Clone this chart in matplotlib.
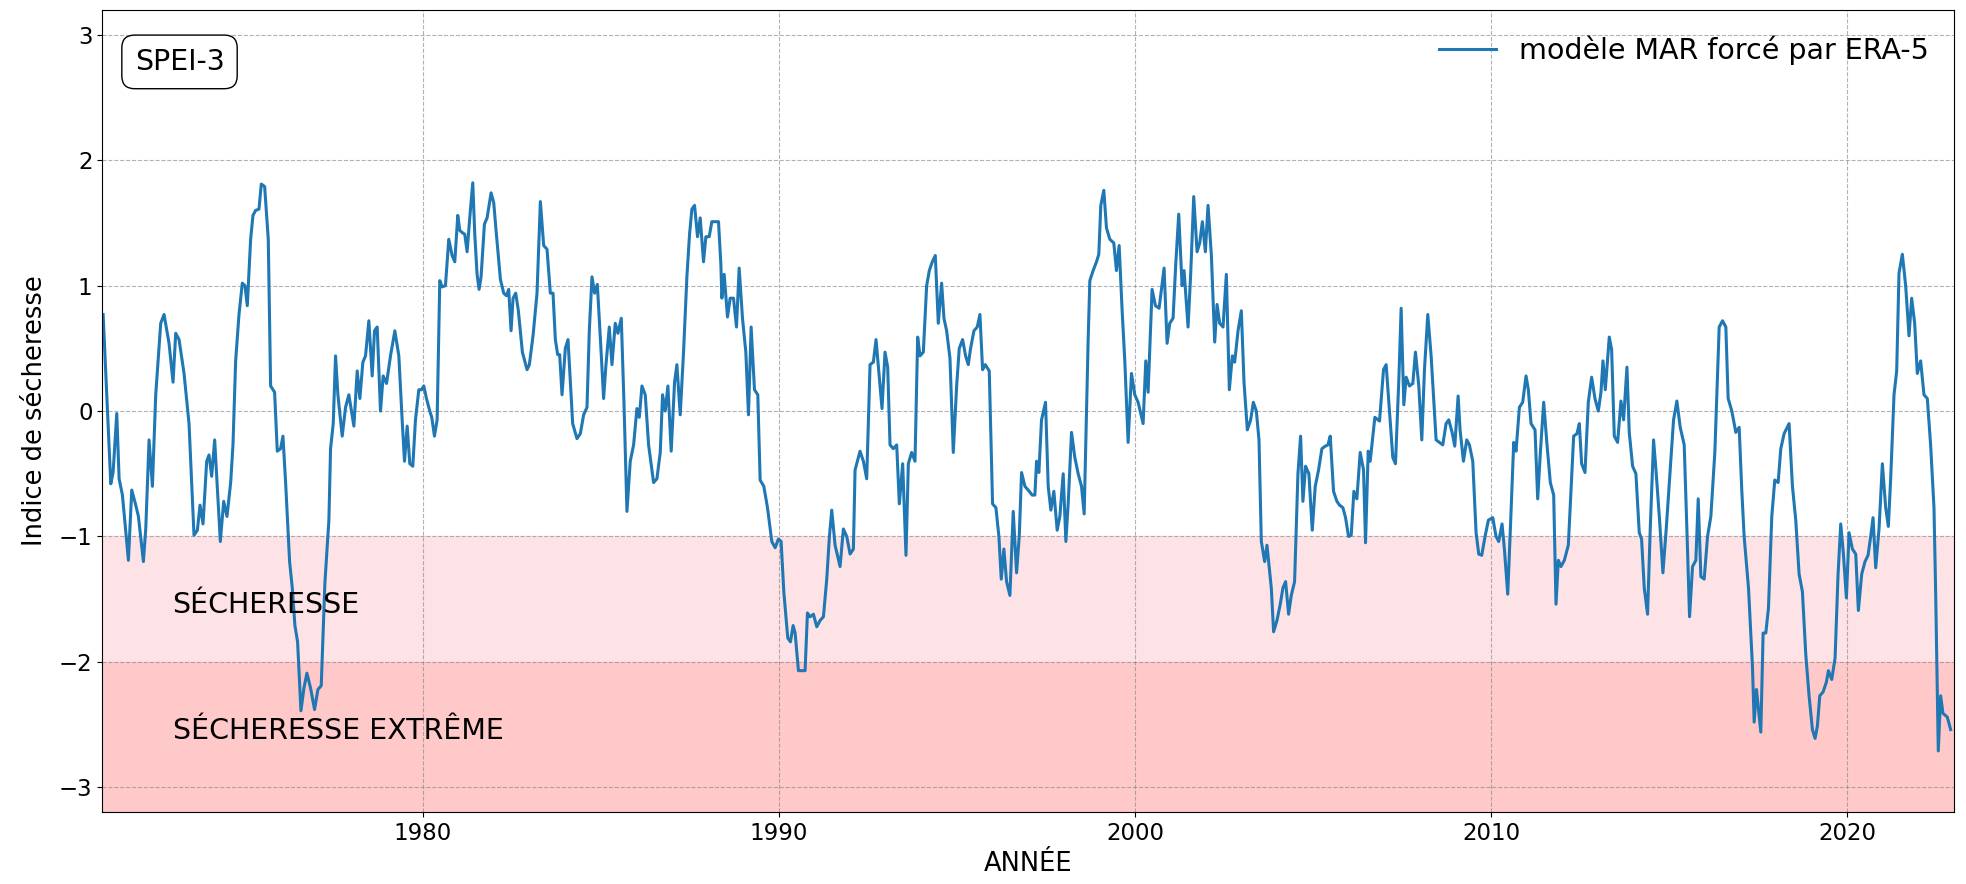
import matplotlib
matplotlib.use("Agg")
import matplotlib.pyplot as plt

# SPEI-3 mensuel, modèle MAR forcé par ERA-5 (années décimales)
annees = [
    1971.025, 1971.24, 1971.305, 1971.408, 1971.474, 1971.567, 1971.735, 1971.829, 1971.941, 1972.016,
    1972.156, 1972.222, 1972.315, 1972.409, 1972.502, 1972.642, 1972.736, 1972.876, 1972.988, 1973.063,
    1973.157, 1973.297, 1973.437, 1973.577, 1973.671, 1973.746, 1973.83, 1973.933, 1973.998, 1974.073,
    1974.157, 1974.251, 1974.316, 1974.41, 1974.503, 1974.606, 1974.671, 1974.746, 1974.84, 1974.933,
    1975.008, 1975.073, 1975.167, 1975.232, 1975.307, 1975.401, 1975.466, 1975.56, 1975.662, 1975.728,
    1975.84, 1975.915, 1976.008, 1976.074, 1976.149, 1976.261, 1976.336, 1976.41, 1976.485, 1976.579,
    1976.663, 1976.747, 1976.85, 1976.962, 1977.056, 1977.149, 1977.252, 1977.364,
    1977.411, 1977.486, 1977.551, 1977.617, 1977.738, 1977.832, 1977.925, 1978.066, 1978.159, 1978.234,
    1978.318, 1978.393, 1978.486, 1978.58, 1978.645, 1978.72, 1978.813, 1978.888, 1978.982, 1979.094,
    1979.216, 1979.328, 1979.421, 1979.487, 1979.562, 1979.636, 1979.72, 1979.795, 1979.889, 1979.964,
    1980.029, 1980.104, 1980.197, 1980.253, 1980.328, 1980.403, 1980.478, 1980.543, 1980.637, 1980.73,
    1980.824, 1980.899, 1980.983, 1981.039, 1981.123, 1981.179, 1981.245, 1981.319, 1981.404, 1981.46,
    1981.525, 1981.581, 1981.637, 1981.731, 1981.806, 1981.918, 1981.993, 1982.058, 1982.18, 1982.273,
    1982.348, 1982.413, 1982.479, 1982.535, 1982.61, 1982.684, 1982.797, 1982.928, 1982.993, 1983.096,
    1983.208, 1983.302, 1983.395, 1983.489, 1983.582, 1983.657, 1983.723, 1983.788, 1983.844, 1983.91,
    1984.003, 1984.078, 1984.209, 1984.33, 1984.424, 1984.517, 1984.611, 1984.676, 1984.751, 1984.826,
    1984.901, 1984.985, 1985.078, 1985.144, 1985.237, 1985.312, 1985.405, 1985.48, 1985.574, 1985.649,
    1985.733, 1985.826, 1985.92, 1986.013, 1986.079, 1986.154, 1986.247, 1986.341, 1986.481, 1986.574,
    1986.668, 1986.733, 1986.808, 1986.883, 1986.976, 1987.07, 1987.135, 1987.229, 1987.322, 1987.416,
    1987.491, 1987.556, 1987.631, 1987.715, 1987.79, 1987.883, 1987.949, 1988.042, 1988.117, 1988.304,
    1988.37, 1988.398, 1988.463, 1988.556, 1988.631, 1988.725, 1988.809, 1988.884, 1988.977, 1989.071,
    1989.145, 1989.22, 1989.314, 1989.407, 1989.473, 1989.576, 1989.679, 1989.8, 1989.894, 1989.987,
    1990.062, 1990.137, 1990.249, 1990.324, 1990.399, 1990.455, 1990.548,
    1990.595, 1990.735, 1990.801, 1990.876, 1990.969, 1991.063, 1991.156, 1991.25, 1991.343, 1991.418,
    1991.483, 1991.577, 1991.717, 1991.81, 1991.904, 1991.998, 1992.091, 1992.138, 1992.278, 1992.372,
    1992.465, 1992.559, 1992.652, 1992.727, 1992.802, 1992.895, 1992.979, 1993.054, 1993.12, 1993.213,
    1993.307, 1993.381, 1993.475, 1993.568, 1993.634, 1993.727, 1993.821, 1993.896, 1993.961, 1994.055,
    1994.148, 1994.223, 1994.307, 1994.391, 1994.475, 1994.569, 1994.634, 1994.709, 1994.803, 1994.896,
    1994.99, 1995.064, 1995.158, 1995.242, 1995.317, 1995.382, 1995.476, 1995.569, 1995.644, 1995.719,
    1995.794, 1995.906, 1995.999, 1996.093, 1996.177, 1996.243, 1996.317, 1996.392, 1996.486, 1996.579,
    1996.673, 1996.748, 1996.813, 1996.907, 1997.028, 1997.112,
    1997.187, 1997.234, 1997.299, 1997.374, 1997.486, 1997.561, 1997.636, 1997.72, 1997.813, 1997.888,
    1997.982, 1998.057, 1998.122, 1998.216, 1998.309, 1998.403, 1998.496, 1998.571, 1998.636, 1998.683,
    1998.73, 1998.823, 1998.917, 1998.982, 1999.038, 1999.123, 1999.197, 1999.291, 1999.403, 1999.478,
    1999.553, 1999.637, 1999.712, 1999.805, 1999.899, 1999.992, 2000.086, 2000.226, 2000.301, 2000.366,
    2000.478, 2000.572, 2000.675, 2000.815, 2000.899, 2000.974, 2001.067, 2001.142, 2001.226, 2001.32,
    2001.376, 2001.488, 2001.563, 2001.647, 2001.741, 2001.815, 2001.89, 2001.974, 2002.049, 2002.143,
    2002.236, 2002.302, 2002.376, 2002.47, 2002.563, 2002.647, 2002.732, 2002.797, 2002.891, 2002.984,
    2003.059, 2003.152, 2003.246, 2003.321, 2003.405, 2003.48, 2003.545, 2003.639, 2003.704,
    2003.825, 2003.89, 2003.984, 2004.077, 2004.152, 2004.227, 2004.311, 2004.386, 2004.479, 2004.573,
    2004.648, 2004.713, 2004.788, 2004.881, 2004.975, 2005.059, 2005.152, 2005.246, 2005.339, 2005.414,
    2005.48, 2005.573, 2005.667, 2005.741, 2005.835, 2005.91, 2005.994, 2006.069, 2006.144, 2006.228,
    2006.321, 2006.415, 2006.471, 2006.546, 2006.602, 2006.733, 2006.864, 2006.976, 2007.05, 2007.144,
    2007.237, 2007.312, 2007.406, 2007.471, 2007.546, 2007.612, 2007.705, 2007.799, 2007.873, 2007.967,
    2008.051, 2008.126, 2008.219, 2008.313, 2008.453, 2008.547, 2008.64, 2008.733, 2008.808, 2008.902,
    2008.977, 2009.071, 2009.126, 2009.22, 2009.313, 2009.388, 2009.482, 2009.575, 2009.65, 2009.734,
    2009.827, 2009.921, 2010.043, 2010.136, 2010.211, 2010.304,
    2010.37, 2010.464, 2010.538, 2010.632, 2010.697, 2010.791, 2010.884, 2010.978, 2011.043, 2011.118,
    2011.23, 2011.305, 2011.38, 2011.473, 2011.567, 2011.66, 2011.754, 2011.819, 2011.885, 2011.959,
    2012.053, 2012.165, 2012.24, 2012.315, 2012.408, 2012.474, 2012.539, 2012.633, 2012.726, 2012.82,
    2012.913, 2013.007, 2013.082, 2013.138, 2013.203, 2013.315, 2013.381, 2013.456, 2013.549, 2013.643,
    2013.717, 2013.811, 2013.876, 2013.97, 2014.063, 2014.157, 2014.222, 2014.297, 2014.39, 2014.465,
    2014.559, 2014.634, 2014.727, 2014.821, 2014.914, 2015.026, 2015.12, 2015.213, 2015.307, 2015.419,
    2015.494, 2015.569, 2015.653, 2015.746, 2015.812, 2015.887, 2015.98, 2016.074, 2016.167, 2016.279,
    2016.401, 2016.495, 2016.588, 2016.653, 2016.756, 2016.868,
    2016.962, 2017.037, 2017.102, 2017.224, 2017.336, 2017.383, 2017.448, 2017.504, 2017.57, 2017.635,
    2017.71, 2017.785, 2017.878, 2017.962, 2018.056, 2018.131, 2018.224, 2018.364, 2018.458, 2018.551,
    2018.645, 2018.738, 2018.832, 2018.925, 2019.019, 2019.094, 2019.159, 2019.225, 2019.318, 2019.412,
    2019.468, 2019.561, 2019.655, 2019.739, 2019.814, 2019.889, 2019.973, 2020.048, 2020.141, 2020.235,
    2020.309, 2020.403, 2020.496, 2020.581, 2020.655, 2020.721, 2020.796, 2020.889, 2020.983, 2021.076,
    2021.151, 2021.216, 2021.31, 2021.385, 2021.45, 2021.544, 2021.637, 2021.731, 2021.806, 2021.89,
    2021.964, 2022.058, 2022.151, 2022.245, 2022.338, 2022.432, 2022.479, 2022.553, 2022.619, 2022.684,
    2022.806, 2022.9,
]

spei = [
    0.77, -0.58, -0.49, -0.02, -0.54, -0.67, -1.19, -0.63, -0.75, -0.84,
    -1.20, -0.94, -0.23, -0.60, 0.13, 0.70, 0.77, 0.54, 0.23, 0.62,
    0.57, 0.30, -0.10, -0.99, -0.95, -0.75, -0.90, -0.40, -0.35, -0.52,
    -0.23, -0.70, -1.04, -0.72, -0.84, -0.57, -0.27, 0.40, 0.77, 1.02,
    1.00, 0.84, 1.37, 1.56, 1.60, 1.61, 1.81, 1.79, 1.37, 0.20,
    0.15, -0.32, -0.30, -0.20, -0.57, -1.20, -1.41, -1.71, -1.84, -2.39,
    -2.21, -2.09, -2.21, -2.38, -2.22, -2.19, -1.37, -0.87,
    -0.30, -0.10, 0.44, 0.13, -0.20, 0.03, 0.13, -0.12, 0.32, 0.10,
    0.39, 0.44, 0.72, 0.28, 0.64, 0.67, 0.00, 0.28, 0.22, 0.44,
    0.64, 0.44, -0.07, -0.40, -0.12, -0.42, -0.44, -0.07, 0.17, 0.17,
    0.20, 0.10, 0.00, -0.05, -0.20, -0.07, 1.04, 0.99, 1.00, 1.37,
    1.24, 1.19, 1.56, 1.44, 1.42, 1.41, 1.27, 1.54, 1.82, 1.41,
    1.09, 0.97, 1.07, 1.49, 1.54, 1.74, 1.66, 1.44, 1.05, 0.94,
    0.92, 0.97, 0.64, 0.90, 0.94, 0.80, 0.47, 0.33, 0.37, 0.60,
    0.94, 1.67, 1.32, 1.29, 0.94, 0.94, 0.57, 0.45, 0.45, 0.13,
    0.50, 0.57, -0.10, -0.22, -0.18, -0.03, 0.03, 0.64, 1.07, 0.94,
    1.01, 0.59, 0.10, 0.37, 0.67, 0.37, 0.70, 0.62, 0.74, 0.07,
    -0.80, -0.40, -0.27, 0.02, -0.05, 0.20, 0.13, -0.27, -0.57, -0.54,
    -0.33, 0.13, 0.00, 0.20, -0.32, 0.23, 0.37, -0.03, 0.47, 1.07,
    1.41, 1.61, 1.64, 1.39, 1.54, 1.19, 1.39, 1.39, 1.51, 1.51,
    1.17, 0.90, 1.09, 0.75, 0.90, 0.90, 0.67, 1.14, 0.74, 0.47,
    -0.03, 0.67, 0.17, 0.13, -0.55, -0.60, -0.77, -1.04, -1.09, -1.02,
    -1.04, -1.44, -1.81, -1.84, -1.71, -1.77, -2.07,
    -2.07, -2.07, -1.61, -1.64, -1.62, -1.72, -1.67, -1.64, -1.34, -1.00,
    -0.79, -1.07, -1.24, -0.94, -1.00, -1.14, -1.10, -0.47, -0.32, -0.40,
    -0.54, 0.37, 0.39, 0.57, 0.32, 0.02, 0.47, 0.35, -0.27, -0.30,
    -0.27, -0.74, -0.42, -1.15, -0.42, -0.33, -0.40, 0.59, 0.44, 0.47,
    1.00, 1.12, 1.19, 1.24, 0.70, 1.02, 0.74, 0.64, 0.42, -0.33,
    0.20, 0.50, 0.57, 0.44, 0.37, 0.50, 0.64, 0.67, 0.77, 0.33,
    0.37, 0.32, -0.74, -0.77, -1.00, -1.34, -1.10, -1.36, -1.47, -0.80,
    -1.29, -1.00, -0.49, -0.60, -0.64, -0.67,
    -0.67, -0.40, -0.49, -0.07, 0.07, -0.60, -0.79, -0.64, -0.95, -0.84,
    -0.50, -1.04, -0.74, -0.17, -0.37, -0.50, -0.60, -0.82, 0.00, 0.57,
    1.04, 1.12, 1.19, 1.25, 1.64, 1.76, 1.46, 1.37, 1.34, 1.12,
    1.32, 0.80, 0.40, -0.25, 0.30, 0.13, 0.07, -0.10, 0.40, 0.15,
    0.97, 0.84, 0.82, 1.14, 0.54, 0.70, 0.74, 1.17, 1.57, 1.00,
    1.12, 0.67, 1.10, 1.71, 1.27, 1.34, 1.51, 1.27, 1.64, 1.24,
    0.55, 0.85, 0.70, 0.67, 1.09, 0.17, 0.44, 0.39, 0.64, 0.80,
    0.23, -0.15, -0.07, 0.07, 0.00, -0.23, -1.04, -1.20, -1.07,
    -1.41, -1.76, -1.67, -1.54, -1.41, -1.36, -1.62, -1.47, -1.36, -0.50,
    -0.20, -0.72, -0.44, -0.50, -0.95, -0.60, -0.47, -0.30, -0.28, -0.27,
    -0.20, -0.64, -0.72, -0.75, -0.77, -0.85, -1.00, -0.99, -0.64, -0.70,
    -0.33, -0.47, -1.05, -0.32, -0.40, -0.05, -0.08, 0.33, 0.37, 0.00,
    -0.37, -0.42, 0.25, 0.82, 0.05, 0.27, 0.20, 0.22, 0.47, 0.20,
    -0.23, 0.33, 0.77, 0.44, -0.23, -0.25, -0.27, -0.10, -0.07, -0.17,
    -0.28, 0.12, -0.15, -0.40, -0.23, -0.27, -0.40, -0.97, -1.14, -1.15,
    -1.00, -0.87, -0.85, -1.00, -1.04, -0.90,
    -1.10, -1.46, -0.94, -0.25, -0.32, 0.03, 0.07, 0.28, 0.17, -0.10,
    -0.15, -0.70, -0.33, 0.07, -0.27, -0.57, -0.67, -1.54, -1.19, -1.24,
    -1.19, -1.07, -0.64, -0.20, -0.18, -0.10, -0.42, -0.49, 0.07, 0.27,
    0.10, 0.00, 0.15, 0.40, 0.17, 0.59, 0.49, -0.20, -0.25, 0.08,
    -0.07, 0.35, -0.17, -0.44, -0.50, -0.97, -1.02, -1.41, -1.62, -0.94,
    -0.23, -0.50, -0.87, -1.29, -0.94, -0.47, -0.07, 0.08, -0.13, -0.27,
    -0.94, -1.64, -1.24, -1.19, -0.70, -1.32, -1.34, -1.00, -0.84, -0.33,
    0.67, 0.72, 0.67, 0.10, 0.00, -0.17,
    -0.13, -0.64, -1.00, -1.41, -2.04, -2.48, -2.22, -2.38, -2.56, -1.77,
    -1.77, -1.57, -0.84, -0.55, -0.57, -0.30, -0.18, -0.10, -0.60, -0.87,
    -1.30, -1.44, -1.94, -2.27, -2.54, -2.61, -2.51, -2.27, -2.24, -2.16,
    -2.07, -2.14, -1.97, -1.30, -0.90, -1.14, -1.49, -0.97, -1.10, -1.14,
    -1.59, -1.30, -1.20, -1.15, -1.00, -0.85, -1.25, -0.94, -0.42, -0.77,
    -0.92, -0.54, 0.13, 0.32, 1.10, 1.25, 1.00, 0.60, 0.90, 0.70,
    0.30, 0.40, 0.13, 0.10, -0.27, -0.77, -1.44, -2.71, -2.27, -2.41,
    -2.44, -2.54,
]

seuil_secheresse = -1.0
seuil_extreme = -2.0

fig, ax = plt.subplots(figsize=(19.66, 8.84), dpi=100)
fig.subplots_adjust(left=0.052, right=0.994, top=0.989, bottom=0.081)

# zones de sécheresse
ax.axhspan(seuil_extreme, seuil_secheresse, color="#fde3e5", zorder=0)
ax.axhspan(-3.2, seuil_extreme, color="#ffc9c9", zorder=0)

ax.plot(annees, spei, color="#1f77b4", linewidth=2.2, label="modèle MAR forcé par ERA-5")

ax.text(0.038, -1.55, "SÉCHERESSE", transform=ax.get_yaxis_transform(),
        fontsize=20.5, va="center", ha="left")
ax.text(0.038, -2.55, "SÉCHERESSE EXTRÊME", transform=ax.get_yaxis_transform(),
        fontsize=20.5, va="center", ha="left")

ax.text(0.0175, 0.935, "SPEI-3", transform=ax.transAxes, fontsize=20.5,
        va="center", ha="left",
        bbox=dict(boxstyle="round,pad=0.45", facecolor="white", edgecolor="black"))

ax.set_xlim(1971.0, 2023.0)
ax.set_ylim(-3.2, 3.2)
ax.set_xticks([1980, 1990, 2000, 2010, 2020])
ax.set_yticks([-3, -2, -1, 0, 1, 2, 3])
ax.tick_params(labelsize=16.5)
ax.grid(True, linestyle="--", color="gray", alpha=0.6)

ax.set_xlabel("ANNÉE", fontsize=18.5)
ax.set_ylabel("Indice de sécheresse", fontsize=18.5, labelpad=8)
ax.legend(loc="upper right", frameon=False, fontsize=20.5)

fig.savefig("out.png", dpi=100)
